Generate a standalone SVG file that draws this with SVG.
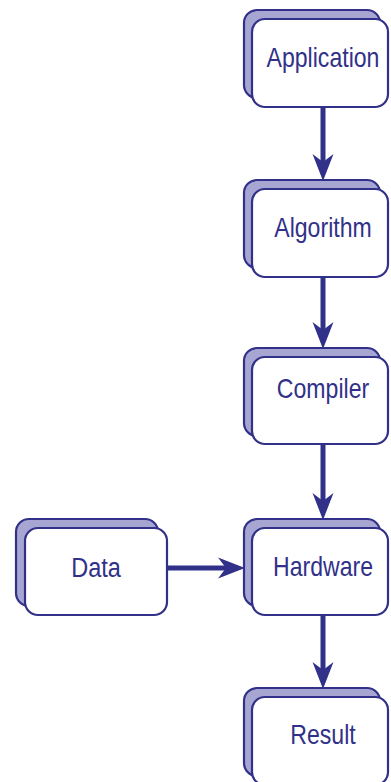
<svg xmlns="http://www.w3.org/2000/svg" width="391" height="782" viewBox="0 0 391 782">
  <style>
    .back { fill: #a7a6d3; stroke: #313189; stroke-width: 2.2; }
    .front { fill: #ffffff; stroke: #313189; stroke-width: 2.2; }
    .label { font-family: "Liberation Sans", Arial, sans-serif; font-size: 27px; fill: #313189; text-anchor: middle; }
    .wire { stroke: #313189; stroke-width: 5; fill: none; marker-end: url(#head); }
  </style>
  <defs>
    <!-- barbed arrowhead; the line stops at the notch, the tip sits 19px further on -->
    <marker id="head" markerUnits="userSpaceOnUse" markerWidth="40" markerHeight="30" viewBox="-10 -15 40 30" refX="0" refY="0" orient="auto" overflow="visible">
      <path d="M19 0 L-8 -10.5 L0 0 L-8 10.5 Z" fill="#313189"/>
    </marker>
  </defs>
  <rect width="391" height="782" fill="#ffffff"/>

  <g id="connectors">
    <line class="wire" x1="323" y1="107" x2="323" y2="162"/>
    <line class="wire" x1="323" y1="277" x2="323" y2="330"/>
    <line class="wire" x1="323" y1="445" x2="323" y2="501"/>
    <line class="wire" x1="323" y1="616" x2="323" y2="670"/>
    <line class="wire" x1="167" y1="568" x2="226" y2="568"/>
  </g>

  <!-- labels use a narrowed sans: horizontal scale 0.855 -->
  <g id="application">
    <rect class="back" x="244" y="10" width="136" height="88" rx="13"/>
    <rect class="front" x="252" y="19" width="136" height="88" rx="13"/>
    <text class="label" transform="translate(323 67) scale(0.855 1)">Application</text>
  </g>

  <g id="algorithm">
    <rect class="back" x="244" y="180" width="136" height="88" rx="13"/>
    <rect class="front" x="252" y="189" width="136" height="88" rx="13"/>
    <text class="label" transform="translate(323 237) scale(0.855 1)">Algorithm</text>
  </g>

  <g id="compiler">
    <rect class="back" x="244" y="348" width="136" height="88" rx="13"/>
    <rect class="front" x="252" y="357" width="136" height="87" rx="13"/>
    <text class="label" transform="translate(323 398) scale(0.855 1)">Compiler</text>
  </g>

  <g id="hardware">
    <rect class="back" x="244" y="519" width="136" height="87" rx="13"/>
    <rect class="front" x="252" y="528" width="136" height="87" rx="13"/>
    <text class="label" transform="translate(323 576) scale(0.855 1)">Hardware</text>
  </g>

  <g id="result">
    <rect class="back" x="244" y="688" width="136" height="88" rx="13"/>
    <rect class="front" x="252" y="697" width="136" height="88" rx="13"/>
    <text class="label" transform="translate(323 744) scale(0.855 1)">Result</text>
  </g>

  <g id="data">
    <rect class="back" x="16" y="519" width="142" height="87" rx="13"/>
    <rect class="front" x="25" y="528" width="142" height="87" rx="13"/>
    <text class="label" transform="translate(96 577) scale(0.87 1)">Data</text>
  </g>
</svg>
